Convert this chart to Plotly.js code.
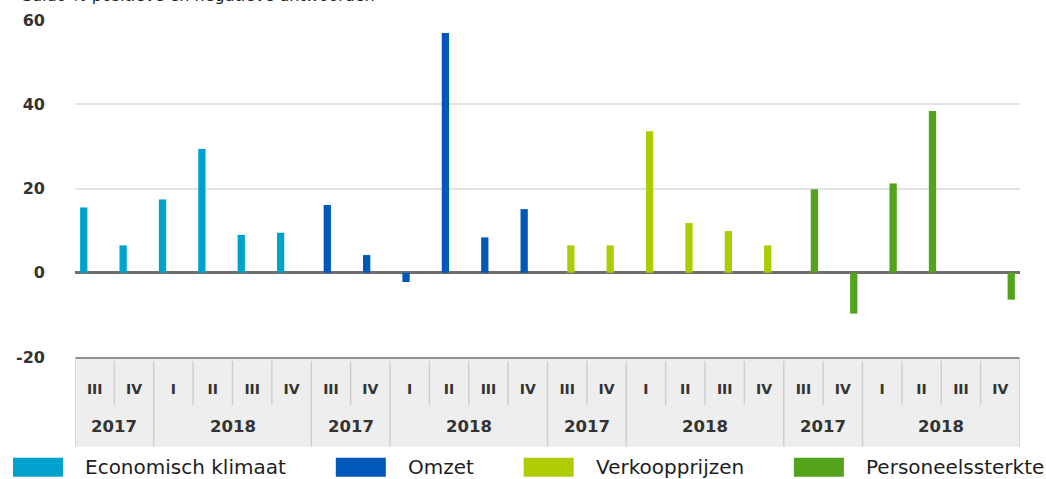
<!DOCTYPE html>
<html>
<head>
<meta charset="utf-8">
<script src="https://cdn.plot.ly/plotly-3.0.1.min.js"></script>
<style>
  html, body { margin: 0; padding: 0; background: #fff; }
  #chart { width: 1046px; height: 479px; }
</style>
</head>
<body>
<div id="chart"></div>
<script>
// ============ DATA ============
const SERIES = ['Economisch klimaat', 'Omzet', 'Verkoopprijzen', 'Personeelssterkte'];
const QUARTERS = ['III', 'IV', 'I', 'II', 'III', 'IV'];
const YEARS = ['2017', '2017', '2018', '2018', '2018', '2018'];
const ECONOMISCH_KLIMAAT = [15.5, 6.5, 17.4, 29.4, 9.0, 9.5];
const OMZET = [16.1, 4.2, -2.2, 56.9, 8.4, 15.1];
const VERKOOPPRIJZEN = [6.5, 6.5, 33.6, 11.8, 9.9, 6.5];
const PERSONEELSSTERKTE = [19.8, -9.7, 21.2, 38.4, 0, -6.4];
const Y_TICKS = [-20, 0, 20, 40, 60];
const Y_TICK_TEXT = ['-20', '0', '20', '40', '60'];
const TITLE = 'Saldo % positieve en negatieve antwoorden';

const VALUES = [ECONOMISCH_KLIMAAT, OMZET, VERKOOPPRIJZEN, PERSONEELSSTERKTE];
const COLORS = ['#00a1cd', '#0058b8', '#afcb05', '#53a31d'];

// ============ GEOMETRY HELPERS ============
const W = 1046, H = 479;
const M = { l: 75, r: 26, t: 19.5, b: 122 };
const PW = W - M.l - M.r, PH = H - M.t - M.b;
const px2x = px => (px - M.l) / PW;
const py2y = py => (H - M.b - py) / PH;

const FONT = "'DejaVu Sans', 'Noto Sans', sans-serif";
const TEXT_COLOR = '#333333';
const TABLE_BG = '#eeeeee';
const SEP_COLOR = '#cfcfcf';
const BARGAP = 0.26;
const LEGEND_SIZE = 20;

// ============ BUILD ============
const nPer = QUARTERS.length;
const allQuarters = [], allYears = [];
SERIES.forEach(() => { QUARTERS.forEach(q => allQuarters.push(q)); YEARS.forEach(y => allYears.push(y)); });
const nCat = allQuarters.length;

// grouped slots: every series keeps its own slot in every category
const slot = (1 - BARGAP) / SERIES.length;
const traces = SERIES.map((name, s) => ({
  type: 'bar',
  name: name,
  x: VALUES[s].map((v, k) => s * nPer + k),
  y: VALUES[s],
  width: slot,
  offset: -(1 - BARGAP) / 2 + s * slot,
  marker: { color: COLORS[s], line: { width: 0 } },
  hoverinfo: 'x+y+name'
}));

const shapes = [];
const annotations = [];

// table under the axis
const tableTop = 0, tableBot = py2y(447), quarterBot = py2y(405);
shapes.push({ type: 'rect', xref: 'x', yref: 'paper', x0: -0.5, x1: nCat - 0.5, y0: tableBot, y1: tableTop,
  fillcolor: TABLE_BG, line: { width: 0 }, layer: 'below' });
shapes.push({ type: 'line', xref: 'x', yref: 'paper', x0: -0.5, x1: -0.5, y0: tableBot, y1: tableTop,
  line: { color: SEP_COLOR, width: 1.5 } });
shapes.push({ type: 'line', xref: 'x', yref: 'paper', x0: nCat - 0.5, x1: nCat - 0.5, y0: tableBot, y1: tableTop,
  line: { color: SEP_COLOR, width: 1.5 } });

// separators between cells, full height where the year group changes
for (let i = 1; i < nCat; i++) {
  const groupBreak = allYears[i] !== allYears[i - 1] || i % nPer === 0;
  shapes.push({ type: 'line', xref: 'x', yref: 'paper', x0: i - 0.5, x1: i - 0.5,
    y0: groupBreak ? tableBot : quarterBot, y1: py2y(361),
    line: { color: SEP_COLOR, width: 1.5 } });
}

// year labels, one per run of equal years
let start = 0;
for (let i = 1; i <= nCat; i++) {
  if (i === nCat || allYears[i] !== allYears[start] || i % nPer === 0) {
    annotations.push({ xref: 'x', yref: 'paper', x: (start + i - 1) / 2, y: py2y(427),
      text: allYears[start], showarrow: false, xanchor: 'center', yanchor: 'middle',
      font: { family: FONT, size: 16.5, color: TEXT_COLOR, weight: 'bold' } });
    start = i;
  }
}

// legend: big swatches flowing left to right
const ctx = document.createElement('canvas').getContext('2d');
ctx.font = LEGEND_SIZE + 'px "DejaVu Sans"';
let cursor = 13;
SERIES.forEach((name, s) => {
  shapes.push({ type: 'rect', xref: 'paper', yref: 'paper', x0: px2x(cursor), x1: px2x(cursor + 50),
    y0: py2y(477), y1: py2y(458), fillcolor: COLORS[s], line: { width: 0 } });
  const tx = cursor + 70;
  annotations.push({ xref: 'paper', yref: 'paper', x: px2x(tx), y: py2y(467.5), text: name,
    showarrow: false, xanchor: 'left', yanchor: 'middle',
    font: { family: FONT, size: LEGEND_SIZE, color: '#1e1e1e' } });
  cursor = tx + ctx.measureText(name).width + 52;
});

// cut-off title line at the very top (only its lowest pixels are in the frame)
annotations.push({ xref: 'paper', yref: 'paper', x: px2x(20), y: py2y(6), text: TITLE,
  showarrow: false, xanchor: 'left', yanchor: 'bottom',
  font: { family: FONT, size: 16, color: '#222222' } });

const layout = {
  width: W, height: H,
  margin: M,
  paper_bgcolor: '#ffffff', plot_bgcolor: '#ffffff',
  font: { family: FONT, color: TEXT_COLOR },
  showlegend: false,
  barmode: 'group', bargap: BARGAP, bargroupgap: 0,
  xaxis: {
    type: 'linear', range: [-0.5, nCat - 0.5], fixedrange: true,
    tickvals: allQuarters.map((q, i) => i), ticktext: allQuarters,
    ticks: '', showgrid: false, zeroline: false,
    showline: true, linecolor: '#8f8f8f', linewidth: 2,
    ticklabelstandoff: 18,
    tickfont: { family: FONT, size: 14, color: TEXT_COLOR, weight: 'bold' }
  },
  yaxis: {
    range: [-20, 60], fixedrange: true,
    tickvals: Y_TICKS, ticktext: Y_TICK_TEXT,
    ticks: '', showgrid: true, gridcolor: '#e2e2e2', gridwidth: 2,
    zeroline: true, zerolinecolor: '#6e6e6e', zerolinewidth: 3,
    showline: false, ticklabelstandoff: 29,
    tickfont: { family: FONT, size: 16, color: TEXT_COLOR, weight: 'bold' }
  },
  shapes: shapes,
  annotations: annotations
};

Plotly.newPlot('chart', traces, layout, { displayModeBar: false, staticPlot: true });
</script>
</body>
</html>
